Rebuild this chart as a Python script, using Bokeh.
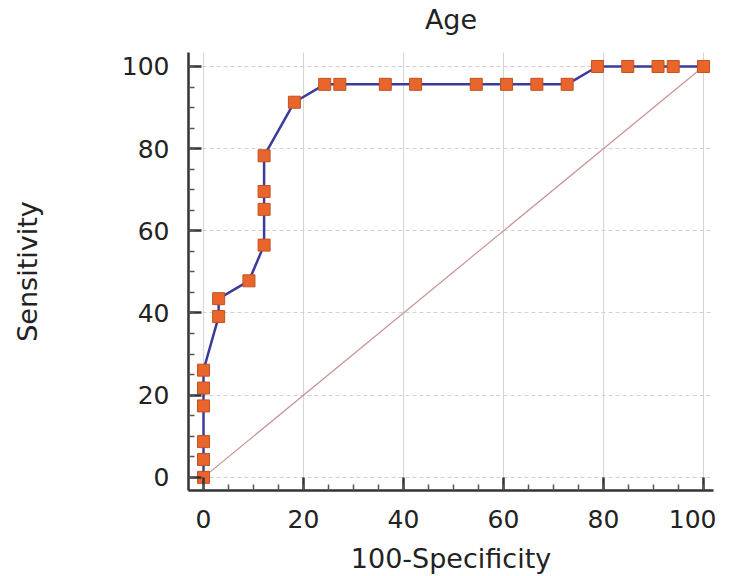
from bokeh.plotting import figure
from bokeh.models import Range1d, FixedTicker
from bokeh.embed import file_html
from bokeh.resources import INLINE

# 100-Specificity (x) and Sensitivity (y) of the ROC curve for "Age"
fpr = [0, 0, 0, 0, 0, 0, 3.03, 3.03, 9.09, 12.12, 12.12, 12.12, 12.12, 18.18,
       24.24, 27.27, 36.36, 42.42, 54.55, 60.61, 66.67, 72.73,
       78.79, 84.85, 90.91, 93.94, 100]
tpr = [0, 4.35, 8.70, 17.39, 21.74, 26.09, 39.13, 43.48, 47.83, 56.52, 65.22, 69.57, 78.26, 91.30,
       95.65, 95.65, 95.65, 95.65, 95.65, 95.65, 95.65, 95.65,
       100, 100, 100, 100, 100]
diag_x = [0, 100]
diag_y = [0, 100]
ticks = [0, 20, 40, 60, 80, 100]

FONT = "DejaVu Sans"

p = figure(width=716, height=576, output_backend="svg", toolbar_location=None,
           x_range=Range1d(-3, 102), y_range=Range1d(-3.2, 103.4),
           min_border_left=188, min_border_right=3, min_border_top=52, min_border_bottom=86,
           title="Age")
p.outline_line_color = None
p.background_fill_color = "white"
p.border_fill_color = "white"

p.title.align = "center"
p.title.text_font = FONT
p.title.text_font_size = "27px"
p.title.text_font_style = "normal"
p.title.text_color = "#222222"
p.title.standoff = 0
p.title.padding = dict(left=0, right=0, top=0, bottom=18)

for ax in (p.xaxis[0], p.yaxis[0]):
    ax.ticker = FixedTicker(ticks=ticks, minor_ticks=list(range(0, 101, 5)))
    ax.axis_line_width = 2.5
    ax.axis_line_color = "#333333"
    ax.major_tick_in = 13
    ax.major_tick_out = 0
    ax.minor_tick_in = 6
    ax.minor_tick_out = 0
    ax.major_tick_line_width = 2.5
    ax.major_tick_line_color = "#333333"
    ax.minor_tick_line_width = 1.5
    ax.minor_tick_line_color = "#555555"
    ax.major_label_text_font = FONT
    ax.major_label_text_font_size = "25px"
    ax.major_label_text_color = "#222222"
    ax.axis_label_text_font = FONT
    ax.axis_label_text_font_size = "27px"
    ax.axis_label_text_font_style = "normal"
    ax.axis_label_text_color = "#222222"

p.xaxis.axis_label = "100-Specificity"
p.yaxis.axis_label = "Sensitivity"
p.xaxis.major_label_standoff = 19
p.xaxis.axis_label_standoff = 12
p.yaxis.major_label_standoff = 19
p.yaxis.axis_label_standoff = 76

p.xgrid.ticker = FixedTicker(ticks=ticks)
p.ygrid.ticker = FixedTicker(ticks=ticks)
p.xgrid.grid_line_color = "#d4d4d4"
p.xgrid.grid_line_width = 1
p.ygrid.grid_line_color = "#d0d0d0"
p.ygrid.grid_line_dash = "4 3"
p.ygrid.grid_line_width = 1

p.line(diag_x, diag_y, line_color="#c89494", line_width=1.2)
p.line(fpr, tpr, line_color="#3b3b9c", line_width=2.5)
p.scatter(fpr, tpr, marker="square", size=12, fill_color="#e8652c",
          line_color="#c4501e", line_width=1)

open("out.html", "w").write(file_html(p, INLINE))
